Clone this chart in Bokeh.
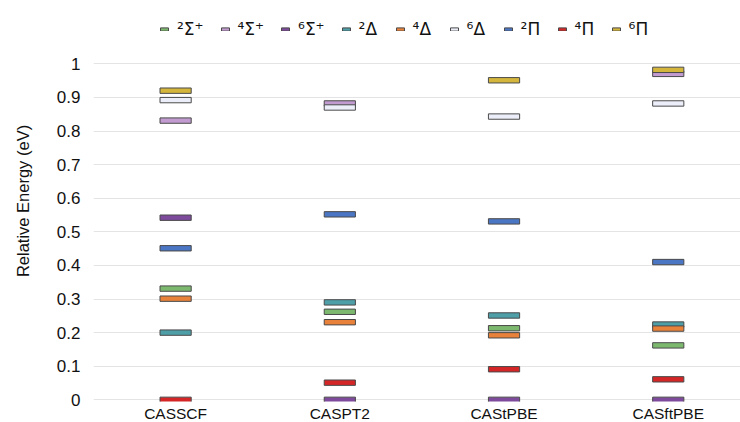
from bokeh.plotting import figure
from bokeh.models import Range1d, FixedTicker, Legend, LegendItem, ColumnDataSource
from bokeh.embed import file_html
from bokeh.resources import INLINE
import math

methods = ["CASSCF", "CASPT2", "CAStPBE", "CASftPBE"]
states = ["²Σ⁺", "⁴Σ⁺", "⁶Σ⁺", "²Δ", "⁴Δ", "⁶Δ", "²Π", "⁴Π", "⁶Π"]
colors = ["#7db86f", "#c29bd0", "#7d4a9c", "#4e9fa8", "#e8813a", "#eceef9",
          "#4a76c4", "#d42626", "#d4b63c"]

nan = float("nan")
sigma2_plus = [0.331, 0.262, 0.213, 0.162]
sigma4_plus = [0.831, 0.882, nan, 0.970]
sigma6_plus = [0.542, 0.000, 0.000, 0.000]
delta2 = [0.200, 0.290, 0.251, 0.224]
delta4 = [0.301, 0.231, 0.192, 0.212]
delta6 = [0.892, 0.870, 0.843, 0.882]
pi2 = [0.451, 0.552, 0.531, 0.410]
pi4 = [0.000, 0.051, 0.091, 0.061]
pi6 = [0.920, nan, 0.951, 0.982]

series = [sigma2_plus, sigma4_plus, sigma6_plus, delta2, delta4, delta6, pi2, pi4, pi6]

FONT = "Liberation Sans"

p = figure(frame_width=647, frame_height=401, output_backend="svg", toolbar_location=None,
           x_range=Range1d(-0.5, 3.44), y_range=Range1d(-0.005, 1.1884),
           min_border_left=93, min_border_right=0, min_border_top=0, min_border_bottom=0)
p.outline_line_color = None

items = []
xs = list(range(len(methods)))
for name, vals, col in zip(states, series, colors):
    xv = [x for x, v in zip(xs, vals) if not math.isnan(v)]
    yv = [v for v in vals if not math.isnan(v)]
    src = ColumnDataSource(dict(x=xv, y=yv))
    r = p.rect(x="x", y="y", width=0.19, height=0.016, source=src,
               fill_color=col, line_color="#4a4a4a", line_width=1)
    items.append(LegendItem(label=name, renderers=[r]))

legend = Legend(items=items, orientation="horizontal", location=(66, 362),
                label_text_font="DejaVu Sans", label_text_font_size="17px",
                label_text_color="#111111",
                glyph_width=10, glyph_height=4, label_standoff=8, spacing=16,
                border_line_color=None, background_fill_alpha=0,
                padding=4, margin=0)
p.add_layout(legend, "center")

p.xaxis.ticker = FixedTicker(ticks=xs)
p.xaxis.major_label_overrides = {i: m for i, m in enumerate(methods)}
p.xaxis.axis_line_color = None
p.xaxis.major_tick_line_color = None
p.xaxis.minor_tick_line_color = None
p.xaxis.major_tick_out = 0
p.xaxis.major_tick_in = 0
p.xaxis.major_label_text_font = FONT
p.xaxis.major_label_text_font_size = "15.5px"
p.xaxis.major_label_text_color = "#111111"
p.xaxis.major_label_standoff = 3

p.yaxis.ticker = FixedTicker(ticks=[0, 0.1, 0.2, 0.3, 0.4, 0.5, 0.6, 0.7, 0.8, 0.9, 1.0])
p.yaxis.major_label_overrides = {0: "0", 1: "1"}
p.yaxis.axis_line_color = None
p.yaxis.major_tick_line_color = None
p.yaxis.minor_tick_line_color = None
p.yaxis.major_tick_out = 0
p.yaxis.major_tick_in = 0
p.yaxis.major_label_text_font = FONT
p.yaxis.major_label_text_font_size = "17px"
p.yaxis.major_label_text_color = "#111111"
p.yaxis.major_label_standoff = 13
p.yaxis.axis_label = "Relative Energy (eV)"
p.yaxis.axis_label_text_font = FONT
p.yaxis.axis_label_text_font_size = "16.5px"
p.yaxis.axis_label_text_font_style = "normal"
p.yaxis.axis_label_text_color = "#111111"
p.yaxis.axis_label_standoff = 22

p.xgrid.grid_line_color = None
p.ygrid.grid_line_color = "#e4e4e4"
p.ygrid.grid_line_width = 1

open("out.html", "w").write(file_html(p, INLINE))
